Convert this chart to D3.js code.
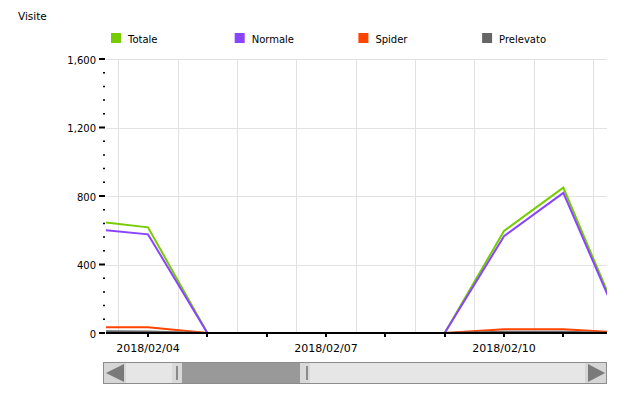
<!DOCTYPE html>
<html>
<head>
<meta charset="utf-8">
<script src="https://cdn.jsdelivr.net/npm/d3@7"></script>
<style>
  body { margin: 0; background: #fff; }
  svg { display: block; font-family: "DejaVu Sans", Verdana, sans-serif; }
</style>
</head>
<body>
<svg id="chart" width="627" height="399"></svg>
<script>
// daily values
const days = ["2018-02-03", "2018-02-04", "2018-02-05", "2018-02-06", "2018-02-07",
              "2018-02-08", "2018-02-09", "2018-02-10", "2018-02-11", "2018-02-12"];
const totale    = [656, 617, 0, 0, 0, 0, 0, 596, 849, 30];
const normale   = [610, 576, 0, 0, 0, 0, 0, 565, 818, 20];
const spider    = [33, 33, 0, 0, 0, 0, 0, 22, 22, 2];
const prelevato = [10, 9, 0, 0, 0, 0, 0, 8, 8, 0];

const seriesNames  = ["Totale", "Normale", "Spider", "Prelevato"];
const seriesColors = ["#77cc00", "#8844ff", "#ff4400", "#666666"];
const seriesValues = [totale, normale, spider, prelevato];

const yTicks = [0, 400, 800, 1200, 1600];
const xLabelDays = ["2018-02-04", "2018-02-07", "2018-02-10"];

const parse = d3.timeParse("%Y-%m-%d");
const dates = days.map(parse);

const svg = d3.select("#chart");
const plotLeft = 106, plotRight = 607, plotTop = 59, plotBottom = 333;

// visible window of the zoomed timeline
const x = d3.scaleTime()
  .domain([new Date(2018, 1, 3, 7, 0), new Date(2018, 1, 11, 17, 40)])
  .range([plotLeft, plotRight]);
const y = d3.scaleLinear().domain([0, 1600]).range([plotBottom, plotTop]);

// title
svg.append("text").attr("x", 18).attr("y", 20)
  .attr("font-size", 10.5).attr("fill", "#000").text("Visite");

// legend
const legend = svg.append("g");
seriesNames.forEach((name, i) => {
  const gx = 111 + i * 123.7;
  legend.append("rect").attr("x", gx).attr("y", 33).attr("width", 10).attr("height", 10)
    .attr("fill", seriesColors[i]);
  legend.append("text").attr("x", gx + 17).attr("y", 42.5)
    .attr("font-size", 10).attr("fill", "#000").text(name);
});

// grid: horizontal at major y ticks, vertical at mid-day
const grid = svg.append("g").attr("stroke", "#e2e2e2").attr("stroke-width", 1);
grid.selectAll("line.h").data(yTicks.slice(1)).join("line")
  .attr("x1", plotLeft).attr("x2", plotRight)
  .attr("y1", d => Math.round(y(d)) + 0.5).attr("y2", d => Math.round(y(d)) + 0.5);
const gridDays = d3.timeDay.range(new Date(2018, 1, 3), new Date(2018, 1, 12))
  .map(d => d3.timeHour.offset(d, 12));
grid.selectAll("line.v").data(gridDays).join("line")
  .attr("x1", d => Math.round(x(d)) + 0.5).attr("x2", d => Math.round(x(d)) + 0.5)
  .attr("y1", plotTop).attr("y2", plotBottom);

// y axis ticks and labels
const yAxis = svg.append("g");
yAxis.selectAll("line.minor").data(d3.range(80, 1600, 80).filter(v => v % 400 !== 0)).join("line")
  .attr("x1", 103).attr("x2", 105)
  .attr("y1", d => y(d)).attr("y2", d => y(d))
  .attr("stroke", "#000").attr("stroke-width", 1.5);
yAxis.selectAll("line.major").data(yTicks).join("line")
  .attr("x1", 99).attr("x2", 105)
  .attr("y1", d => y(d)).attr("y2", d => y(d))
  .attr("stroke", "#000").attr("stroke-width", 2);
yAxis.selectAll("text").data(yTicks).join("text")
  .attr("x", 96).attr("y", d => y(d) + 1).attr("dy", "0.35em")
  .attr("text-anchor", "end").attr("font-size", 10).attr("fill", "#000")
  .text(d3.format(","));

// lines, clipped to the plot area
svg.append("clipPath").attr("id", "plot")
  .append("rect").attr("x", plotLeft).attr("y", 0)
  .attr("width", plotRight - plotLeft).attr("height", plotBottom + 2);

const line = d3.line().x((d, i) => x(dates[i])).y(d => y(d));
svg.append("g").attr("clip-path", "url(#plot)")
  .selectAll("path").data(seriesValues).join("path")
  .attr("d", line)
  .attr("fill", "none")
  .attr("stroke", (d, i) => seriesColors[i])
  .attr("stroke-width", 2)
  .attr("stroke-linejoin", "miter");

// x axis
const xAxis = svg.append("g");
xAxis.append("line").attr("x1", plotLeft).attr("x2", plotRight)
  .attr("y1", plotBottom).attr("y2", plotBottom)
  .attr("stroke", "#000").attr("stroke-width", 2);
const tickDays = d3.timeDay.range(new Date(2018, 1, 4), new Date(2018, 1, 12));
xAxis.selectAll("line.tick").data(tickDays).join("line")
  .attr("x1", d => Math.round(x(d))).attr("x2", d => Math.round(x(d)))
  .attr("y1", plotBottom).attr("y2", plotBottom + 4)
  .attr("stroke", "#000").attr("stroke-width", 2);
xAxis.selectAll("text").data(xLabelDays.map(parse)).join("text")
  .attr("x", d => x(d)).attr("y", 352)
  .attr("text-anchor", "middle").attr("font-size", 11).attr("fill", "#000")
  .text(d3.timeFormat("%Y/%m/%d"));

// scrollbar
const sb = svg.append("g");
sb.append("rect").attr("x", 103.5).attr("y", 362.5).attr("width", 503).attr("height", 21)
  .attr("fill", "#e6e6e6").attr("stroke", "#8c8c8c");
// buttons
sb.append("rect").attr("x", 104).attr("y", 363).attr("width", 22).attr("height", 20).attr("fill", "#d6d6d6");
sb.append("path").attr("d", "M106,373 L124,364 L124,382 Z").attr("fill", "#7a7a7a");
sb.append("rect").attr("x", 585).attr("y", 363).attr("width", 21).attr("height", 20).attr("fill", "#d6d6d6");
sb.append("path").attr("d", "M605,373 L588,364 L588,382 Z").attr("fill", "#7a7a7a");
// thumb
sb.append("rect").attr("x", 172).attr("y", 363).attr("width", 10).attr("height", 20).attr("fill", "#d9d9d9");
sb.append("rect").attr("x", 300).attr("y", 363).attr("width", 10).attr("height", 20).attr("fill", "#d9d9d9");
sb.append("rect").attr("x", 182).attr("y", 363).attr("width", 118).attr("height", 20).attr("fill", "#999999");
sb.append("rect").attr("x", 176).attr("y", 366).attr("width", 2).attr("height", 14).attr("fill", "#8a8a8a");
sb.append("rect").attr("x", 306).attr("y", 366).attr("width", 2).attr("height", 14).attr("fill", "#8a8a8a");
</script>
</body>
</html>
